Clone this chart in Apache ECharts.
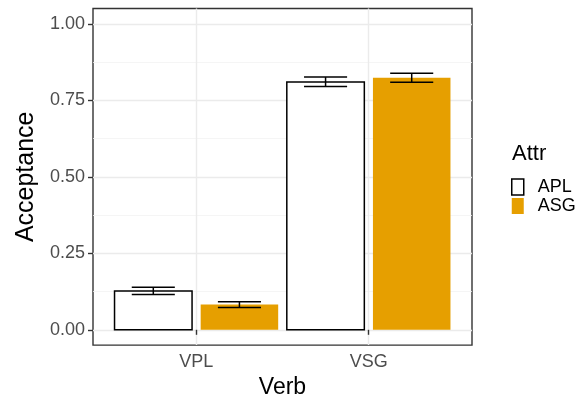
<!DOCTYPE html>
<html>
<head>
<meta charset="utf-8">
<script src="https://cdn.jsdelivr.net/npm/echarts@6/dist/echarts.min.js"></script>
<style>
  html, body { margin: 0; padding: 0; background: #fff; }
  #main { width: 581px; height: 404px; }
</style>
</head>
<body>
<div id="main"></div>
<script>
'use strict'
// categories on x and the fill groups
var categories = ['VPL', 'VSG'];
var attrs = ['APL', 'ASG'];
// mean acceptance per verb
var aplMean = [0.127, 0.810];
var asgMean = [0.083, 0.824];
// error bar ends
var aplLo = [0.115, 0.795];
var aplHi = [0.139, 0.826];
var asgLo = [0.073, 0.809];
var asgHi = [0.092, 0.838];
// y tick labels
var yTicks = [0, 0.25, 0.5, 0.75, 1];
var yMinor = [0.125, 0.375, 0.625, 0.875];

var fills = ['#ffffff', '#E69F00'];
var offsets = [-0.25, 0.25];
var barHalf = 0.225, capHalf = 0.125;

function barData(means, g) {
    return means.map(function (v, i) { return [i + 1 + offsets[g], v]; });
}
function errData(lo, hi, g) {
    return lo.map(function (v, i) { return [i + 1 + offsets[g], v, hi[i]]; });
}

function barRender(g) {
    return function (params, api) {
        var x = api.value(0), y = api.value(1);
        var p0 = api.coord([x - barHalf, y]);
        var p1 = api.coord([x + barHalf, 0]);
        return {
            type: 'rect',
            shape: { x: p0[0], y: p0[1], width: p1[0] - p0[0], height: p1[1] - p0[1] },
            style: g === 0 ? { fill: fills[0], stroke: '#000', lineWidth: 1.5 } : { fill: fills[1] }
        };
    };
}

function errRender(params, api) {
    var x = api.value(0);
    var lo = api.coord([x, api.value(1)]);
    var hi = api.coord([x, api.value(2)]);
    var l = api.coord([x - capHalf, 0])[0];
    var r = api.coord([x + capHalf, 0])[0];
    var st = { stroke: '#000', lineWidth: 1.5 };
    return {
        type: 'group',
        children: [
            { type: 'line', shape: { x1: lo[0], y1: lo[1], x2: hi[0], y2: hi[1] }, style: st },
            { type: 'line', shape: { x1: l, y1: lo[1], x2: r, y2: lo[1] }, style: st },
            { type: 'line', shape: { x1: l, y1: hi[1], x2: r, y2: hi[1] }, style: st }
        ]
    };
}

var myChart = echarts.init(document.getElementById('main'), null, { renderer: 'canvas' });
myChart.setOption({
    animation: false,
    textStyle: { fontFamily: 'Liberation Sans' },
    title: {
        text: 'Attr', left: 512, top: 143, padding: 0,
        textStyle: { fontSize: 22, fontWeight: 'normal', color: '#000', fontFamily: 'Liberation Sans' }
    },
    legend: {
        orient: 'vertical', left: 511, top: 178, padding: 0,
        itemWidth: 12, itemHeight: 16, itemGap: 1,
        textStyle: { fontSize: 18, color: '#000', padding: [0, 0, 0, 9] },
        data: [
            { name: 'APL', icon: 'rect', itemStyle: { color: '#fff', borderColor: '#000', borderWidth: 1.5 } },
            { name: 'ASG', icon: 'rect', itemStyle: { color: fills[1], borderWidth: 0 } }
        ]
    },
    grid: { left: 93, right: 109, top: 8.5, bottom: 58, show: true, borderColor: '#333333', borderWidth: 1.4, backgroundColor: '#fff' },
    xAxis: {
        type: 'value', min: 0.4, max: 2.6,
        name: 'Verb', nameLocation: 'middle', nameGap: 27,
        nameTextStyle: { fontSize: 23, color: '#000' },
        axisLine: { show: false },
        axisTick: { show: true, length: 5, customValues: [1, 2], lineStyle: { color: '#333333', width: 1.4 } },
        axisLabel: {
            customValues: [1, 2], fontSize: 18, color: '#4D4D4D', margin: 8,
            formatter: function (v) { return categories[Math.round(v) - 1]; }
        },
        splitLine: { show: true, lineStyle: { color: '#EBEBEB', width: 1.4 } }
    },
    yAxis: [{
        type: 'value', min: -0.05, max: 1.05,
        name: 'Acceptance', nameLocation: 'middle', nameGap: 48,
        nameTextStyle: { fontSize: 25, color: '#000' },
        axisLine: { show: false },
        axisTick: { show: true, length: 5, customValues: yTicks, lineStyle: { color: '#333333', width: 1.4 } },
        axisLabel: {
            customValues: yTicks, fontSize: 18, color: '#4D4D4D', margin: 8,
            formatter: function (v) { return v.toFixed(2); }
        },
        splitLine: { show: true, lineStyle: { color: '#EBEBEB', width: 1.4 } }
    }, {
        type: 'value', min: -0.05, max: 1.05, position: 'left',
        axisLine: { show: false },
        axisTick: { show: false, customValues: yMinor },
        axisLabel: { show: false, customValues: yMinor },
        splitLine: { show: true, lineStyle: { color: '#F2F2F2', width: 0.8 } }
    }],
    series: [
        { name: 'APL', type: 'custom', renderItem: barRender(0), data: barData(aplMean, 0), itemStyle: { color: '#fff', borderColor: '#000' }, z: 2 },
        { name: 'ASG', type: 'custom', renderItem: barRender(1), data: barData(asgMean, 1), itemStyle: { color: fills[1] }, z: 2 },
        { name: 'errAPL', type: 'custom', renderItem: errRender, data: errData(aplLo, aplHi, 0), z: 3 },
        { name: 'errASG', type: 'custom', renderItem: errRender, data: errData(asgLo, asgHi, 1), z: 3 }
    ]
});
</script>
</body>
</html>
